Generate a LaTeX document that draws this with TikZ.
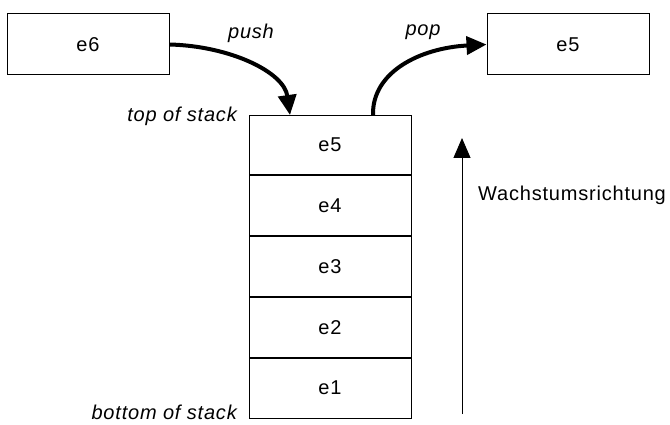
\documentclass[tikz,border=0pt]{standalone}
\usepackage{fontspec}
\setmainfont{Liberation Sans}[LetterSpace=4]
\usetikzlibrary{arrows.meta}
\begin{document}
\begin{tikzpicture}[x=1pt,y=-1pt,
  box/.style={draw,line width=1pt,minimum width=162pt,minimum height=61pt,inner sep=0pt,font=\fontsize{20}{23}\selectfont},
  cell/.style={draw,line width=1pt,minimum width=162pt,minimum height=59.8pt,inner sep=0pt,font=\fontsize{20}{23}\selectfont},
  lbl/.style={font=\fontsize{20}{23}\selectfont\itshape,inner sep=0pt},
  bigarrow/.style={line width=4pt,-{Triangle[length=20pt,width=18pt]}}]
\useasboundingbox (0,0) rectangle (670,425);
\node[box] (e6) at (88,44.5) {e6};
\node[box] (out) at (568,44.5) {e5};
\node[cell] (c5) at (330,145) {e5};
\node[cell,anchor=north] (c4) at (c5.south) {e4};
\node[cell,anchor=north] (c3) at (c4.south) {e3};
\node[cell,anchor=north] (c2) at (c3.south) {e2};
\node[cell,anchor=north] (c1) at (c2.south) {e1};
\coordinate (pushend) at (290,115);
\coordinate (popstart) at (373,115);
\draw[bigarrow] (e6.east) .. controls (230,46) and (284,72) .. (pushend);
\draw[bigarrow] (popstart) .. controls (372,72) and (420,48) .. (out.west);
\node[lbl] (push) at (251,33) {push};
\node[lbl] (pop) at (423,32) {pop};
\node[lbl,anchor=east] (top) at (237,116) {top of stack};
\node[lbl,anchor=east] (bottom) at (237,412) {bottom of stack};
\coordinate (gbot) at (462,414);
\coordinate (gtop) at (462,138);
\draw[line width=1pt,-{Triangle[length=20pt,width=17pt]}] (gbot) -- (gtop);
\node[font=\fontsize{20}{23}\selectfont,anchor=west,inner sep=0pt] (grow) at (478,195) {Wachstumsrichtung};
\end{tikzpicture}
\end{document}
